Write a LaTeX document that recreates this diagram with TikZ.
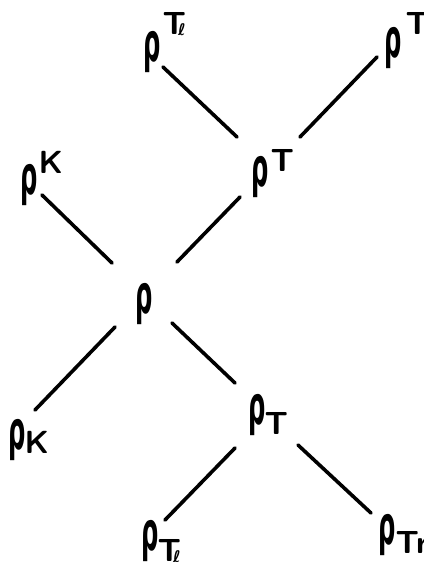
\RequirePackage{fix-cm}
\documentclass[tikz,border=0pt]{standalone}
\usepackage{fontspec}
\newfontfamily\rf{DejaVu Sans}
\usetikzlibrary{calc}
\newcommand{\rh}{\scalebox{0.55}[1.22]{\fontsize{44}{44}\selectfont\rf\bfseries ρ}}
\newcommand{\scr}[3]{\rlap{\smash{\kern#1pt\raisebox{#2pt}{\fontsize{32}{32}\selectfont\sffamily\bfseries #3}}}}
\newcommand{\tell}{T\kern-8pt\raisebox{-1pt}{\fontsize{16}{16}\selectfont\rf\bfseries ℓ}}
\begin{document}
\begin{tikzpicture}[x=1pt,y=-1pt,
  lab/.style={inner sep=0pt,outer sep=0pt,anchor=center},
  conn/.style={line width=3.6pt,line cap=round}]
\useasboundingbox (0,0) rectangle (423,562);
\node[lab] (LTl) at (152,52) {\rh\scr{2}{27}{\tell}};
\node[lab] (LTr) at (393,48) {\rh\scr{4}{23}{Tr}};
\node[lab] (LK)  at (29,185) {\rh\scr{1}{21}{K}};
\node[lab] (LT)  at (260,177) {\rh\scr{2}{15}{T}};
\node[lab] (R)   at (144,304) {\rh};
\node[lab] (BK)  at (17,440) {\rh\scr{-1}{-4}{K}};
\node[lab] (BT)  at (257,415) {\rh\scr{-1}{-10}{T}};
\node[lab] (BTl) at (150,541) {\rh\scr{-1}{-11}{\tell}};
\node[lab] (BTr) at (387,535) {\rh\scr{0}{-9}{Tr}};
\draw[conn] ($(LTl)+(11,15)$) -- ($(LT)+(-23,-40)$);
\draw[conn] ($(LTr)+(-16,9)$) -- ($(LT)+(40,-40)$);
\draw[conn] ($(LK)+(13,10)$) -- ($(R)+(-32,-41)$);
\draw[conn] ($(LT)+(-20,20)$) -- ($(R)+(33,-42)$);
\draw[conn] ($(R)+(-29,23)$) -- ($(BK)+(18,-30)$);
\draw[conn] ($(R)+(28,19)$) -- ($(BT)+(-22,-32)$);
\draw[conn] ($(BT)+(-22,33)$) -- ($(BTl)+(15,-21)$);
\draw[conn] ($(BT)+(41,30)$) -- ($(BTr)+(-16,-22)$);
\end{tikzpicture}
\end{document}
